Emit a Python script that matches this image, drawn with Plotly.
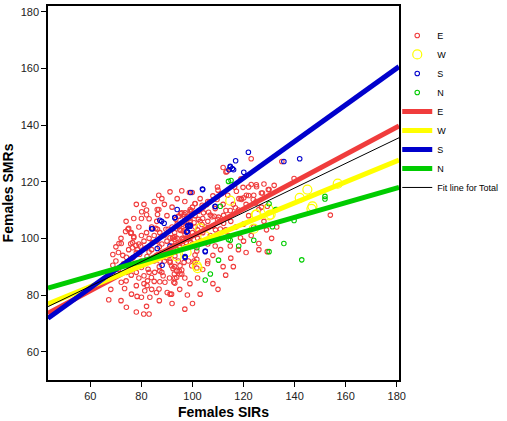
import plotly.graph_objects as go

# ---- data (Females SIR, Females SMR) by region ----
E_x = [91.2, 86.8, 80.1, 82.0, 86.2, 86.8, 83.0, 86.3, 75.0, 75.8, 77.0, 71.2, 72.1, 68.8, 72.7, 75.8, 76.5, 77.8, 78.4, 74.1,
       76.1, 79.7, 81.6, 83.0, 84.3, 85.6, 86.3, 87.2, 88.0, 89.6, 90.5, 91.2, 92.2, 93.1, 95.5, 94.8, 96.7, 98.4, 99.3, 99.1,
       101.0, 104.3, 106.3, 107.6, 108.9, 109.8, 113.1, 113.5, 95.8, 98.8, 96.7, 94.8, 95.8, 97.9, 99.1, 100.6, 102.3, 103.7, 106.3, 108.0,
       112.2, 68.8, 71.0, 72.1, 73.4, 67.2, 74.1, 76.1, 78.0, 78.3, 80.0, 81.3, 82.2, 83.3, 85.9, 86.9, 89.2, 90.1, 91.2, 80.9,
       83.0, 93.1, 93.8, 95.1, 95.8, 103.0, 74.1, 75.4, 78.0, 80.0, 81.3, 82.6, 83.9, 85.2, 87.2, 88.5, 81.0, 82.4, 85.0, 87.2,
       92.4, 95.1, 96.7, 98.4, 99.7, 76.7, 79.3, 82.2, 84.3, 86.2, 87.2, 89.6, 91.2, 93.1, 94.4, 123.0, 113.1, 109.8, 99.9, 117.2,
       118.2, 119.2, 121.1, 124.0, 113.8, 111.5, 109.6, 106.7, 105.6, 103.8, 101.0, 99.1, 97.1, 95.4, 94.4, 93.5, 96.7, 97.7, 99.7, 102.3,
       104.3, 107.0, 108.5, 110.2, 112.2, 114.8, 116.8, 116.5, 119.8, 122.0, 125.1, 129.7, 132.0, 92.5, 93.1, 91.8, 92.2, 91.6, 92.5, 91.2,
       91.8, 93.8, 94.8, 95.8, 92.9, 93.1, 92.7, 91.8, 96.4, 97.1, 98.4, 96.4, 97.5, 99.3, 100.4, 101.7, 101.0, 101.7, 100.6, 101.0,
       101.7, 105.9, 108.9, 110.9, 114.8, 118.8, 126.0, 129.3, 135.0, 139.8, 154.0, 128.0, 130.0, 125.0, 127.4, 124.7, 123.8, 129.3, 126.0, 120.1,
       122.0, 74.7, 73.8, 77.0, 76.5,
       96, 97, 98, 99, 100, 101, 102, 96, 95, 94, 97, 99, 101, 103, 100, 98, 95, 93, 92, 94,
       96, 102, 104, 103, 105, 106, 104, 89, 90, 88, 87, 86, 85, 84, 83, 82, 81, 80, 79, 88,
       86, 90, 89, 87, 85, 83, 80, 78, 77, 75, 73, 71, 70, 69, 74, 76, 79, 81, 84, 88,
       91, 93, 94, 91, 90, 92, 89, 86, 84, 82, 79, 77, 76, 80, 78, 85, 88, 94, 97, 100,
       103, 106, 108, 110, 112, 111, 109, 107, 106, 110, 113, 115, 117, 120, 122, 118, 116, 119, 121, 125,
       127, 128, 124, 123, 114, 111, 108, 106, 104, 102, 99, 97, 95, 98, 108, 112, 115, 118, 121, 116,
       113, 110, 100, 97, 92, 87, 82, 78, 72, 68, 66, 70, 72, 74, 81, 120, 126, 131, 133, 129,
       127, 123, 119, 112]
E_y = [116.4, 115.2, 109.4, 108.3, 110.2, 110.2, 106.9, 108.4, 103.5, 101.8, 100.6, 98.2, 98.2, 94.3, 94.0, 98.1, 96.7, 97.5, 96.0, 93.3,
       92.9, 97.3, 96.5, 95.2, 98.5, 103.5, 103.2, 102.0, 100.8, 103.2, 103.2, 100.2, 100.2, 100.6, 102.8, 104.3, 105.7, 106.9, 104.7, 109.6,
       112.3, 111.1, 109.2, 107.6, 110.5, 106.7, 109.8, 123.6, 116.8, 116.2, 108.4, 107.8, 109.0, 107.6, 106.1, 105.5, 106.7, 104.9, 103.8, 104.3,
       105.3, 90.5, 89.1, 84.5, 82.3, 78.3, 75.7, 80.3, 83.3, 79.5, 79.2, 81.5, 83.3, 79.2, 80.9, 82.1, 84.5, 80.9, 80.3, 73.3,
       73.3, 84.2, 86.2, 87.4, 88.8, 80.3, 88.0, 89.1, 88.0, 89.7, 91.5, 89.1, 86.2, 88.0, 88.5, 86.8, 86.8, 85.0, 84.8, 84.7,
       89.3, 90.3, 91.5, 92.0, 90.3, 93.2, 94.4, 93.6, 92.6, 94.0, 92.0, 93.2, 92.0, 93.8, 92.0, 128.1, 123.4, 118.1, 116.2, 116.6,
       114.0, 113.7, 115.2, 115.2, 115.2, 115.8, 113.7, 112.9, 111.9, 111.7, 112.2, 110.2, 109.0, 108.7, 107.8, 106.7, 107.8, 107.0, 109.6, 109.6,
       109.0, 108.2, 107.8, 107.5, 108.1, 109.8, 110.8, 118.1, 118.0, 118.1, 118.2, 117.2, 118.7, 100.2, 99.6, 98.5, 97.3, 96.5, 95.0, 91.5,
       90.3, 88.5, 88.5, 87.4, 87.4, 85.9, 84.5, 80.3, 102.6, 101.4, 100.2, 99.6, 98.5, 98.5, 97.6, 95.5, 94.1, 92.6, 92.0, 91.5,
       89.5, 91.1, 97.3, 103.3, 97.3, 100.2, 98.2, 95.3, 127.1, 121.1, 108.2, 119.2, 117.2, 118.9, 116.0, 112.5, 113.7, 111.3, 110.2, 114.3,
       115.1, 103.2, 102.4, 100.2, 98.5,
       105, 103, 101, 100, 102, 104, 100, 100, 103, 105, 106, 107, 108, 106, 98, 97, 97, 102, 104, 100,
       98, 103, 102, 99, 104, 106, 107, 101, 99, 98, 97, 99, 101, 96, 100, 102, 99, 101, 98, 95,
       94, 95, 92, 90, 92, 88, 92, 95, 90, 96, 91, 95, 92, 87, 85, 87, 86, 84, 82, 88,
       86, 90, 96, 94, 108, 111, 112, 106, 104, 110, 104, 107, 102, 107, 112, 113, 114, 114, 113, 111,
       114, 113, 115, 117, 112, 106, 103, 101, 98, 100, 103, 106, 104, 105, 108, 110, 112, 114, 112, 113,
       111, 106, 104, 101, 101, 96, 94, 92, 89, 86, 84, 86, 82, 80, 84, 90, 93, 96, 95, 90,
       87, 82, 77, 75, 77, 78, 76, 74, 78, 82, 86, 97, 100, 106, 112, 99, 96, 100, 104, 103,
       116, 119, 121, 125]

W_x = [114.8, 124.8, 129.7, 130.0, 102.0, 145.0, 142.0, 156.9, 147.0, 146.6, 130.6, 101.7, 93.8, 103.0, 105.0, 124.0, 97.7, 125.1]
W_y = [113.3, 108.4, 110.4, 108.1, 89.5, 117.2, 114.3, 119.3, 111.3, 110.4, 108.4, 90.3, 93.6, 103.5, 100.8, 103.4, 95.0, 108.4]

S_x = [121.9, 116.9, 114.8, 115.6, 114.3, 116.1, 120.1, 103.9, 99.3, 108.9, 94.0, 93.1, 98.4, 99.1, 98.0, 105.0, 97.1, 99.1,
       135.8, 142.0, 87.9, 88.9, 84.3, 104.0, 87.2, 84.0, 93.1, 98.1, 98.8, 97.7, 86.2, 91.2, 88.1, 97.1, 105.0, 108.9, 114.8]
S_y = [130.4, 127.4, 125.4, 124.6, 124.2, 124.2, 123.3, 117.4, 116.2, 111.2, 110.2, 107.3, 104.6, 104.6, 102.4, 95.3, 93.2, 104.3,
       127.1, 128.1, 106.0, 105.3, 103.4, 117.2, 106.4, 103.4, 107.3, 104.3, 104.3, 102.2, 96.4, 97.3, 90.5, 93.6, 95.5, 111.3, 125.2]

N_x = [115.1, 110.9, 130.0, 133.0, 114.8, 118.1, 124.0, 130.0, 110.2, 107.0, 105.0, 151.9, 151.9, 139.8, 135.8, 142.8,
       131.3, 132.6, 101.7, 114.1, 114.1]
N_y = [120.4, 111.3, 112.2, 110.2, 99.3, 97.3, 99.3, 95.3, 92.3, 87.4, 85.3, 114.8, 113.9, 106.3, 98.2, 92.4,
       104.1, 110.2, 96.7, 120.1, 99.6]

# fit lines: values at the two ends of the SIR axis
fit_x = [43.4, 180.9]
fit_E = [73.5, 139.7]
fit_W = [76.8, 127.6]
fit_S = [71.8, 160.6]
fit_N = [82.4, 118.0]
fit_Total = [75.9, 135.5]

RED = "#f03c3c"
YEL = "#ffff00"
BLU = "#0000cc"
GRN = "#00cc00"

fig = go.Figure()
fig.add_trace(go.Scatter(x=E_x, y=E_y, mode="markers", name="E",
                         marker=dict(symbol="circle-open", color=RED, size=4.5, line=dict(width=1.1, color=RED))))
fig.add_trace(go.Scatter(x=W_x, y=W_y, mode="markers", name="W",
                         marker=dict(symbol="circle-open", color=YEL, size=9, line=dict(width=1.2, color=YEL))))
fig.add_trace(go.Scatter(x=S_x, y=S_y, mode="markers", name="S",
                         marker=dict(symbol="circle-open", color=BLU, size=4.5, line=dict(width=1.1, color=BLU))))
fig.add_trace(go.Scatter(x=N_x, y=N_y, mode="markers", name="N",
                         marker=dict(symbol="circle-open", color=GRN, size=4.5, line=dict(width=1.1, color=GRN))))

for nm, ys, c in [("E", fit_E, RED), ("W", fit_W, YEL), ("S", fit_S, BLU), ("N", fit_N, GRN)]:
    fig.add_trace(go.Scatter(x=fit_x, y=ys, mode="lines", name=nm, line=dict(color=c, width=5)))
fig.add_trace(go.Scatter(x=fit_x, y=fit_Total, mode="lines", name="Fit line for Total",
                         line=dict(color="black", width=1)))

axis_common = dict(showgrid=False, zeroline=False, showline=True, linecolor="black", linewidth=1.5,
                   mirror=True, ticks="outside", ticklen=5, tickcolor="black", tickwidth=1,
                   tickfont=dict(family="Liberation Sans, Arial", size=11, color="#222"))
fig.update_xaxes(range=[43.4, 180.9], tickvals=[60, 80, 100, 120, 140, 160, 180],
                 title=dict(text="<b>Females SIRs</b>", font=dict(family="Liberation Sans, Arial", size=14, color="black"),
                            standoff=6), **axis_common)
fig.update_yaxes(range=[50, 182], tickvals=[60, 80, 100, 120, 140, 160, 180],
                 title=dict(text="<b>Females SMRs</b>", font=dict(family="Liberation Sans, Arial", size=14, color="black"),
                            standoff=4), **axis_common)

fig.update_layout(
    width=507, height=421,
    margin=dict(l=48, r=108, t=6, b=41, autoexpand=False),
    plot_bgcolor="white", paper_bgcolor="white",
    showlegend=True,
    legend=dict(x=0.995, y=0.96, xanchor="left", yanchor="top", bgcolor="rgba(0,0,0,0)",
                font=dict(family="Liberation Sans, Arial", size=9, color="black"),
                itemwidth=30, tracegroupgap=0),
)

fig.write_html("out.html")
